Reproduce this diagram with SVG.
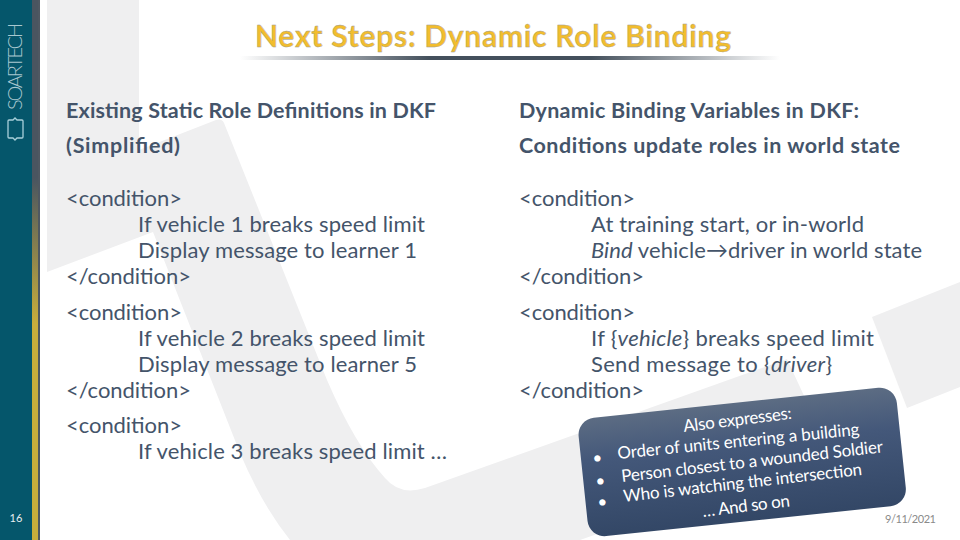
<svg xmlns="http://www.w3.org/2000/svg" width="960" height="540" viewBox="0 0 960 540">
<style>
text{font-family:"Lato","Carlito","Liberation Sans",sans-serif;fill:#44546a}
.h{font-size:21.5px;font-weight:700}
.b{font-size:22px}
.c{font-size:17px;fill:#fff}
</style>
<defs>
<linearGradient id="rule"><stop offset="0" stop-color="#44505c" stop-opacity="0"/><stop offset=".35" stop-color="#44505c"/><stop offset=".65" stop-color="#44505c"/><stop offset="1" stop-color="#44505c" stop-opacity="0"/></linearGradient>
<linearGradient id="card" x1="0" y1="0" x2="0" y2="1"><stop offset="0" stop-color="#5c6c83"/><stop offset=".35" stop-color="#44587a"/><stop offset="1" stop-color="#334766"/></linearGradient>
<linearGradient id="strip" x1="0" y1="0" x2="0" y2="1"><stop offset=".33" stop-color="#4a5560"/><stop offset=".6" stop-color="#c8ae3c"/><stop offset="1" stop-color="#c8ae3c"/></linearGradient>
</defs>
<rect width="960" height="540" fill="#fff"/>
<g id="watermark" fill="#efeff0">
<path d="M47 0H139V150L216 120Q222 118 224 123L327 380Q355 445 385 478Q400 496 425 488L787 359L830 452L580 540H290Q262 505 240 453L153 232L47 272Z"/>
<path d="M872 317L960 282V387L907 408Z"/>
</g>
<g id="sidebar">
<rect width="33" height="540" fill="#05566b"/>
<rect x="33" width="7" height="540" fill="#4f5862"/>
<rect x="32" width="6" height="540" fill="url(#strip)"/>
<text transform="translate(22 110) rotate(-90)" textLength="87" style="font-size:20px;font-weight:300;fill:#a9c8d0">SOARTECH</text>
<path d="M9 120H13L15 118L17 120H22Q23 120 23 121V137Q23 138 22 138H17L15 140L13 138H9Q8 138 8 137V121Q8 120 9 120Z" fill="none" stroke="#a9d0da" stroke-width="1.3"/>
<text x="16" y="522" text-anchor="middle" style="font-size:11px;fill:#e8eef0">16</text>
</g>
<g id="title">
<rect x="240" y="56" width="540" height="4" fill="url(#rule)"/>
<text x="255" y="47" textLength="476" style="font-size:30px;font-weight:700;fill:#f2bd2e;stroke:#9a9a9a;stroke-width:.35px">Next Steps: Dynamic Role Binding</text>
</g>
<g id="left-column">
<text class="h" x="66" y="118" textLength="370">Existing Static Role Definitions in DKF</text>
<text class="h" x="66" y="153" textLength="114">(Simplified)</text>
<text class="b" x="66" y="206" textLength="116">&lt;condition&gt;</text>
<text class="b" x="138" y="232" textLength="287">If vehicle 1 breaks speed limit</text>
<text class="b" x="138" y="258" textLength="279">Display message to learner 1</text>
<text class="b" x="66" y="284" textLength="125">&lt;/condition&gt;</text>
<text class="b" x="66" y="320" textLength="116">&lt;condition&gt;</text>
<text class="b" x="138" y="346" textLength="287">If vehicle 2 breaks speed limit</text>
<text class="b" x="138" y="372" textLength="279">Display message to learner 5</text>
<text class="b" x="66" y="398" textLength="125">&lt;/condition&gt;</text>
<text class="b" x="66" y="433" textLength="116">&lt;condition&gt;</text>
<text class="b" x="138" y="459" textLength="309">If vehicle 3 breaks speed limit …</text>
</g>
<g id="right-column">
<text class="h" x="519" y="118" textLength="340">Dynamic Binding Variables in DKF:</text>
<text class="h" x="519" y="153" textLength="381">Conditions update roles in world state</text>
<text class="b" x="519" y="206" textLength="116">&lt;condition&gt;</text>
<text class="b" x="591" y="232" textLength="273">At training start, or in-world</text>
<text class="b" x="591" y="258" textLength="331"><tspan font-style="italic">Bind</tspan> vehicle→driver in world state</text>
<text class="b" x="519" y="284" textLength="125">&lt;/condition&gt;</text>
<text class="b" x="519" y="320" textLength="116">&lt;condition&gt;</text>
<text class="b" x="591" y="346" textLength="283">If {<tspan font-style="italic">vehicle</tspan>} breaks speed limit</text>
<text class="b" x="591" y="372" textLength="241">Send message to {<tspan font-style="italic">driver</tspan>}</text>
<text class="b" x="519" y="398" textLength="125">&lt;/condition&gt;</text>
</g>
<g id="callout">
<rect x="582" y="402.500" width="320" height="119" rx="17" fill="url(#card)" transform="rotate(-6 742 460)"/>
<text class="c" transform="translate(684 432) rotate(-7)" textLength="109">Also expresses:</text>
<text class="c" transform="translate(593 464) rotate(-6)">•</text>
<text class="c" transform="translate(618 459) rotate(-5.7)" textLength="243">Order of units entering a building</text>
<text class="c" transform="translate(596 487) rotate(-6)">•</text>
<text class="c" transform="translate(622 482) rotate(-6.5)" textLength="263">Person closest to a wounded Soldier</text>
<text class="c" transform="translate(598 508) rotate(-6)">•</text>
<text class="c" transform="translate(624 502) rotate(-6.5)" textLength="240">Who is watching the intersection</text>
<text class="c" transform="translate(703 517) rotate(-7)" textLength="88">… And so on</text>
</g>
<text id="date" x="885" y="523" textLength="51" style="font-size:11px;fill:#8a8a8a">9/11/2021</text>
</svg>
